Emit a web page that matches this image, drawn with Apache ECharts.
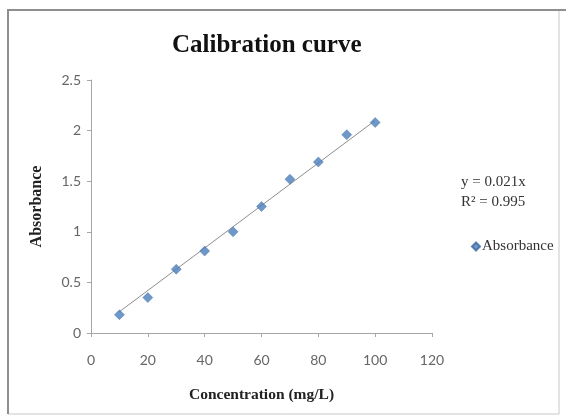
<!DOCTYPE html>
<html>
<head>
<meta charset="utf-8">
<script src="https://cdn.jsdelivr.net/npm/echarts@6/dist/echarts.min.js"></script>
<style>
  html, body { margin: 0; padding: 0; background: #fff; }
  #chart { width: 566px; height: 419px; }
</style>
</head>
<body>
<div id="chart"></div>
<script>
// concentration (mg/L) and measured absorbance
const concentration = [10, 20, 30, 40, 50, 60, 70, 80, 90, 100]
const absorbance = [0.18, 0.35, 0.63, 0.81, 1.0, 1.25, 1.52, 1.69, 1.96, 2.08]
// linear trendline y = 0.021x, drawn over the data range
const trendX = [10, 100]
const trendY = [0.21, 2.1]

const serif = '"Liberation Serif", "DejaVu Serif", serif'
const sans = 'Lato, "Liberation Sans", sans-serif'
const myChart = echarts.init(document.getElementById('chart'))

const option = {
  animation: false,
  title: {
    text: 'Calibration curve',
    left: 167,
    top: 28,
    textStyle: { fontFamily: serif, fontSize: 25, fontWeight: 'bold', color: '#111' }
  },
  grid: { left: 91, right: 134, top: 80, bottom: 86 },
  legend: {
    left: 466,
    top: 234,
    itemWidth: 8,
    itemHeight: 8,
    itemGap: 4,
    data: [{ name: 'Absorbance', icon: 'diamond' }],
    textStyle: { fontFamily: serif, fontSize: 15, color: '#333', padding: [0, 0, 0, -3] }
  },
  xAxis: {
    type: 'value',
    min: 0, max: 120, interval: 20,
    name: 'Concentration (mg/L)',
    nameLocation: 'middle',
    nameGap: 54,
    nameTextStyle: { fontFamily: serif, fontSize: 15.5, fontWeight: 'bold', color: '#222' },
    axisLine: { show: true, lineStyle: { color: '#a6a6a6' } },
    axisTick: { show: true, length: 4, lineStyle: { color: '#a6a6a6' } },
    splitLine: { show: false },
    axisLabel: { margin: 20, fontFamily: sans, fontSize: 14, color: '#666' }
  },
  yAxis: {
    type: 'value',
    min: 0, max: 2.5, interval: 0.5,
    name: 'Absorbance',
    nameLocation: 'middle',
    nameGap: 46,
    nameTextStyle: { fontFamily: serif, fontSize: 16, fontWeight: 'bold', color: '#222' },
    axisLine: { show: true, lineStyle: { color: '#a6a6a6' } },
    axisTick: { show: true, length: 4, lineStyle: { color: '#a6a6a6' } },
    splitLine: { show: false },
    axisLabel: { margin: 10, fontFamily: sans, fontSize: 14, color: '#666' }
  },
  series: [
    {
      name: 'Trendline',
      type: 'line',
      data: trendX.map((x, i) => [x, trendY[i]]),
      symbol: 'none',
      lineStyle: { color: '#8c8c8c', width: 1 },
      z: 1
    },
    {
      name: 'Absorbance',
      type: 'scatter',
      data: concentration.map((x, i) => [x, absorbance[i]]),
      symbol: 'diamond',
      symbolSize: 10,
      itemStyle: { color: '#4a7ebb', borderColor: '#3a689e', borderWidth: 0.5 },
      z: 2
    }
  ],
  graphic: [
    {
      type: 'rect',
      shape: { x: 8, y: 10, width: 551, height: 404 },
      style: { fill: 'none', stroke: '#c8c8c8', lineWidth: 1 },
      silent: true
    },
    {
      type: 'polyline',
      shape: { points: [[8, 414], [8, 10], [566, 10]] },
      style: { stroke: '#8e8e8e', lineWidth: 2, fill: 'none' },
      silent: true
    },
    {
      type: 'text',
      left: 461,
      top: 172,
      style: {
        text: 'y = 0.021x\nR² = 0.995',
        font: '15px ' + serif,
        fill: '#333',
        lineHeight: 20
      }
    }
  ]
}

myChart.setOption(option)
</script>
</body>
</html>
